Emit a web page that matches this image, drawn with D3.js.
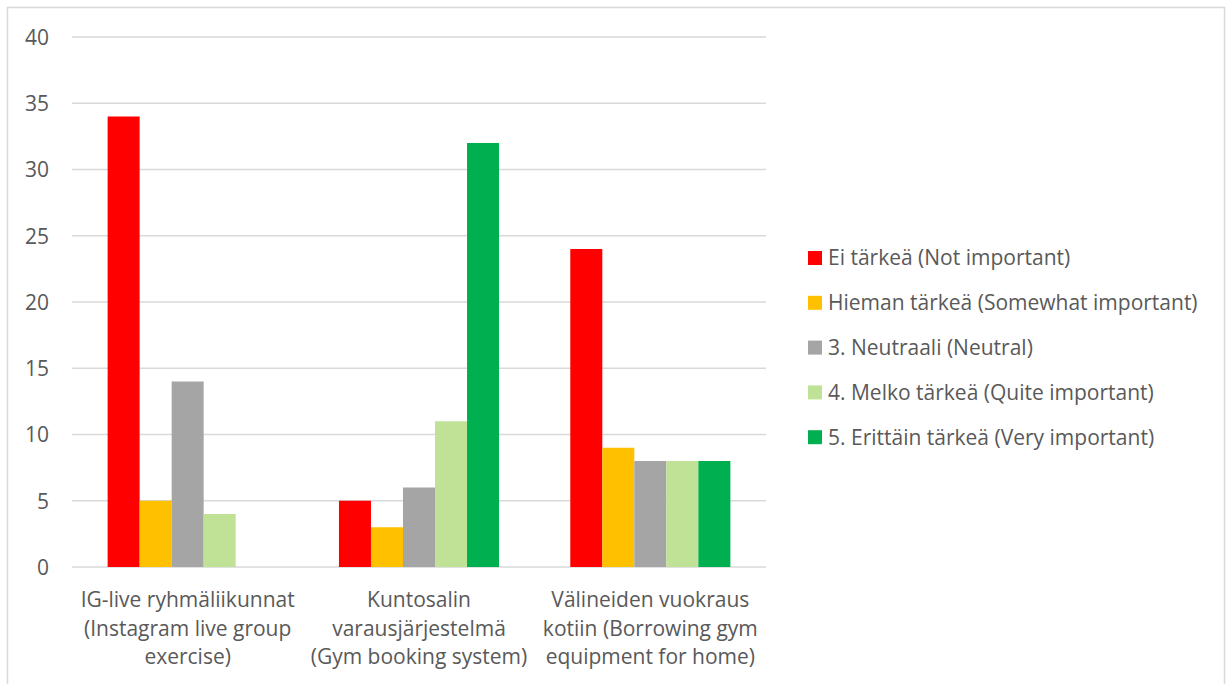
<!DOCTYPE html>
<html><head><meta charset="utf-8">
<script src="https://cdn.jsdelivr.net/npm/d3@7"></script>
<style>body{margin:0;background:#fff}svg{display:block}</style>
</head><body>
<script>
const categories = [
  ["IG-live ryhmäliikunnat", "(Instagram live group", "exercise)"],
  ["Kuntosalin", "varausjärjestelmä", "(Gym booking system)"],
  ["Välineiden vuokraus", "kotiin (Borrowing gym", "equipment for home)"]
];
const seriesNames = [
  "Ei tärkeä (Not important)",
  "Hieman tärkeä (Somewhat important)",
  "3. Neutraali (Neutral)",
  "4. Melko tärkeä (Quite important)",
  "5. Erittäin tärkeä (Very important)"
];
const notImportant = [34, 5, 24];
const somewhatImportant = [5, 3, 9];
const neutral = [14, 6, 8];
const quiteImportant = [4, 11, 8];
const veryImportant = [0, 32, 8];
const colors = ["#FF0000", "#FFC000", "#A5A5A5", "#C0E296", "#00B050"];
const yTicks = [0, 5, 10, 15, 20, 25, 30, 35, 40];

const seriesValues = [notImportant, somewhatImportant, neutral, quiteImportant, veryImportant];
const W = 1227, H = 684;
const font = "'Open Sans', Calibri, sans-serif";
const fs = 21;
const svg = d3.select("body").append("svg").attr("width", W).attr("height", H);

svg.append("rect").attr("x", 7.5).attr("y", 7.5).attr("width", 1217).attr("height", 700)
  .attr("fill", "#fff").attr("stroke", "#d9d9d9").attr("stroke-width", 1.5);

const x0 = d3.scaleBand().domain(d3.range(categories.length)).range([72, 766]).paddingInner(0.308).paddingOuter(0.154);
const x1 = d3.scaleBand().domain(d3.range(seriesNames.length)).range([0, x0.bandwidth()]);
const y = d3.scaleLinear().domain([0, 40]).range([567, 37]);

svg.append("g").selectAll("line").data(yTicks).join("line")
  .attr("x1", 72).attr("x2", 766).attr("y1", d => y(d)).attr("y2", d => y(d))
  .attr("stroke", "#d9d9d9").attr("stroke-width", 1.5);

const yAxis = d3.axisLeft(y).tickValues(yTicks).tickSize(0).tickPadding(0);
const ya = svg.append("g").attr("transform", "translate(49,0)").call(yAxis);
ya.select(".domain").remove();
ya.selectAll("text").attr("font-family", font).attr("font-size", fs).attr("fill", "#595959").attr("dy", "0.35em");

const groups = svg.append("g").selectAll("g").data(categories.map((c, i) => i)).join("g")
  .attr("transform", i => `translate(${x0(i)},0)`);
groups.selectAll("rect").data(i => seriesValues.map((s, k) => ({k, v: s[i]}))).join("rect")
  .attr("x", d => x1(d.k)).attr("width", x1.bandwidth())
  .attr("y", d => y(d.v)).attr("height", d => y(0) - y(d.v))
  .attr("fill", d => colors[d.k]);

const outerBand = d3.scaleBand().domain(d3.range(categories.length)).range([72, 766]);
const cl = svg.append("g").selectAll("text").data(categories).join("text")
  .attr("x", (d, i) => outerBand(i) + outerBand.bandwidth() / 2)
  .attr("y", 607).attr("text-anchor", "middle")
  .attr("font-family", font).attr("font-size", fs).attr("fill", "#595959");
cl.selectAll("tspan").data(d => d).join("tspan")
  .attr("x", function () { return d3.select(this.parentNode).attr("x"); })
  .attr("dy", (d, j) => j === 0 ? 0 : 28.7).text(d => d);

const lg = svg.append("g").selectAll("g").data(seriesNames).join("g")
  .attr("transform", (d, i) => `translate(808,${258 + i * 44.8})`);
lg.append("rect").attr("x", 0).attr("y", -7).attr("width", 14).attr("height", 14).attr("fill", (d, i) => colors[i]);
lg.append("text").attr("x", 20).attr("y", 0).attr("dy", "0.35em")
  .attr("font-family", font).attr("font-size", fs).attr("fill", "#595959").text(d => d);
</script>
</body></html>
